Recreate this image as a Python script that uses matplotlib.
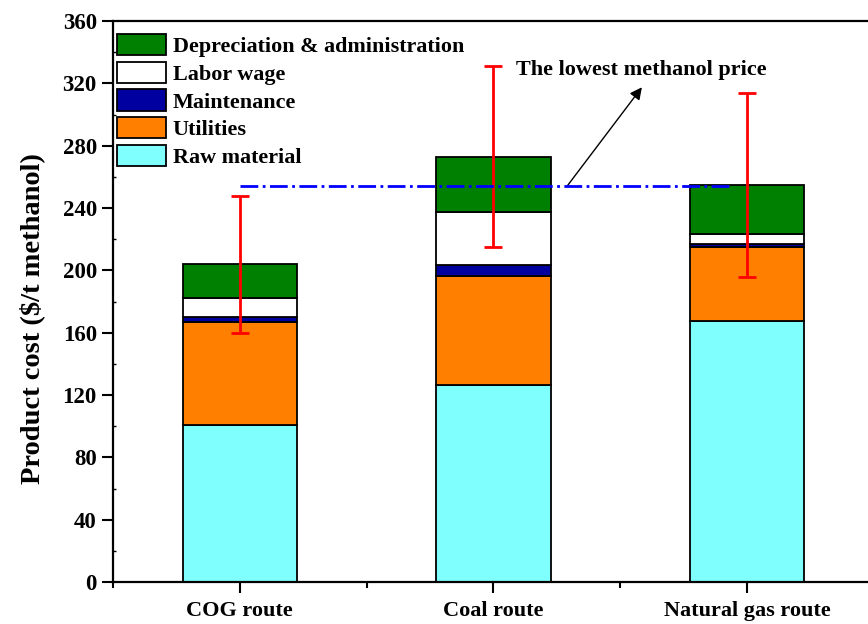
import numpy as np
import matplotlib.pyplot as plt

plt.rcParams['font.family'] = ['Liberation Serif', 'DejaVu Serif']
plt.rcParams['font.weight'] = 'bold'

routes = ['COG route', 'Coal route', 'Natural gas route']
components = ['Raw material', 'Utilities', 'Maintenance', 'Labor wage',
              'Depreciation & administration']
raw_material = [101.0, 126.5, 167.7]
utilities = [66.0, 70.0, 47.0]
maintenance = [3.0, 7.0, 2.5]
labor_wage = [12.0, 34.0, 6.0]
depreciation = [22.0, 35.5, 31.5]
cost_error = [44.0, 58.0, 59.0]
lowest_price = 254.0

colors = ['#80ffff', '#ff8000', '#0000a0', '#ffffff', '#008000']

fig = plt.figure(figsize=(8.68, 6.24), dpi=100)
ax = fig.add_axes([0.130, 0.0673, 0.877, 0.899])

x = np.arange(1, len(routes) + 1)
bottom = np.zeros(len(routes))
handles = []
for vals, name, c in zip([raw_material, utilities, maintenance, labor_wage, depreciation],
                         components, colors):
    b = ax.bar(x, vals, width=0.45, bottom=bottom, color=c, edgecolor='black',
               linewidth=1.3, label=name)
    handles.append(b)
    bottom = bottom + np.array(vals)

# error bars on the total cost
ax.errorbar(x, bottom, yerr=cost_error, fmt='none', ecolor='red', elinewidth=2,
            capsize=6.5, capthick=2, zorder=5)

# lowest methanol price line
ax.plot([1, 2.93], [lowest_price, lowest_price], color='#0000ff', linestyle='-.',
        linewidth=2, zorder=6)
ax.annotate('', xy=(2.585, 317.5), xytext=(2.29, lowest_price),
            arrowprops=dict(arrowstyle='-|>', color='black', lw=1, mutation_scale=18,
                            shrinkA=0, shrinkB=0))
ax.text(2.09, 328.5, 'The lowest methanol price', fontsize=16, fontweight='bold',
        ha='left', va='center')

ax.set_xlim(0.5, 3.5)
ax.set_ylim(0, 360)
ax.set_xticks(x)
ax.set_xticklabels(routes, fontsize=16, fontweight='bold')
ax.set_xticks([0.5, 1.5, 2.5, 3.5], minor=True)
ax.set_yticks(np.arange(0, 361, 40))
ax.set_yticks(np.arange(20, 360, 40), minor=True)
ax.tick_params(axis='y', which='major', labelsize=16.5, length=8, width=1.5, direction='out')
ax.tick_params(axis='x', which='major', length=8, width=1.5, direction='out', pad=6)
ax.tick_params(axis='x', which='minor', length=4, width=1.5, direction='out')
ax.tick_params(axis='y', which='minor', length=2, width=1, direction='in')
for lab in ax.get_yticklabels():
    lab.set_fontweight('bold')
for s in ax.spines.values():
    s.set_linewidth(1.6)

ax.set_ylabel('Product cost ($/t methanol)', fontsize=20.5, fontweight='bold')
ax.yaxis.set_label_coords(-0.089, 0.47)

leg = ax.legend(handles[::-1], components[::-1], loc='upper left',
                bbox_to_anchor=(117 / 868, 1 - 34 / 624), bbox_transform=fig.transFigure,
                frameon=False, fontsize=15.9, handlelength=2.2, handleheight=1.12,
                handletextpad=0.32, labelspacing=0.2, borderpad=0, borderaxespad=0)
for t in leg.get_texts():
    t.set_fontweight('bold')

fig.savefig('out.png', dpi=100)
